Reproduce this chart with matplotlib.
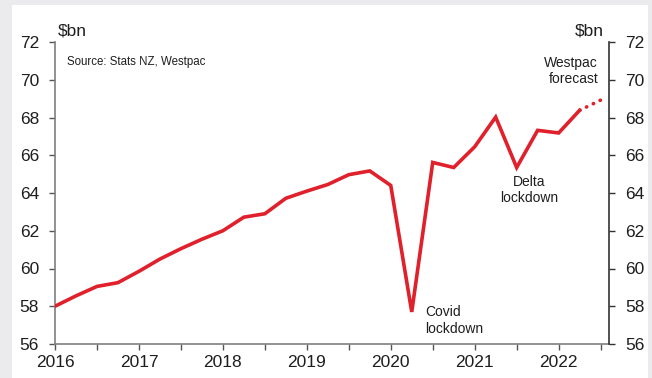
import matplotlib.pyplot as plt
from matplotlib.patches import Rectangle

plt.rcParams['font.family'] = ['Liberation Sans', 'DejaVu Sans']

# quarterly nominal values, $bn
quarters = [2016.0, 2016.25, 2016.5, 2016.75,
            2017.0, 2017.25, 2017.5, 2017.75,
            2018.0, 2018.25, 2018.5, 2018.75,
            2019.0, 2019.25, 2019.5, 2019.75,
            2020.0, 2020.25, 2020.5, 2020.75,
            2021.0, 2021.25, 2021.5, 2021.75,
            2022.0, 2022.25]
actual = [58.0, 58.55, 59.05, 59.25,
          59.85, 60.5, 61.05, 61.55,
          62.0, 62.72, 62.9, 63.72,
          64.1, 64.45, 64.97, 65.17,
          64.4, 57.7, 65.62, 65.35,
          66.45, 68.02, 65.35, 67.32,
          67.18, 68.38]
forecast_x = [2022.25, 2022.5]
forecast = [68.38, 68.92]

year_ticks = [2016, 2017, 2018, 2019, 2020, 2021, 2022]
half_ticks = [2016.5, 2017.5, 2018.5, 2019.5, 2020.5, 2021.5, 2022.5]
y_ticks = [56, 58, 60, 62, 64, 66, 68, 70, 72]

red = '#e0202b'
txt = '#1e1e1e'

fig = plt.figure(figsize=(6.52, 3.78), dpi=100)
fig.patch.set_facecolor('#ebebed')
fig.patches.append(Rectangle((12 / 652, 0), 636 / 652, 373 / 378,
                             transform=fig.transFigure, facecolor='white',
                             edgecolor='none', zorder=-10))

ax = fig.add_axes([55 / 652, 34 / 378, 554 / 652, 302 / 378])
ax.set_facecolor('none')
ax.plot(quarters, actual, color=red, lw=2.6, solid_joinstyle='miter', zorder=3)
ax.plot(forecast_x, forecast, color=red, lw=2.6, linestyle=(0, (0.1, 2.0)),
        dash_capstyle='round', zorder=3)

ax.set_xlim(2016, 2022.6)
ax.set_ylim(56, 72)
ax.set_yticks(y_ticks)
ax.set_xticks(year_ticks)
ax.set_xticks(half_ticks, minor=True)
ax.tick_params(axis='y', direction='out', length=4.5, width=1, pad=7,
               labelsize=12.5, colors='#555555', labelcolor=txt)
ax.tick_params(axis='x', which='both', direction='out', length=4, width=1,
               pad=4, labelsize=12.5, colors='#555555', labelcolor=txt)

for s in ['top', 'right']:
    ax.spines[s].set_visible(False)
ax.spines['left'].set_color('#7f7f7f')
ax.spines['bottom'].set_color('#7f7f7f')
ax.spines['left'].set_linewidth(1.2)
ax.spines['bottom'].set_linewidth(1.2)

ax2 = ax.twinx()
ax2.set_ylim(56, 72)
ax2.set_yticks(y_ticks)
ax2.tick_params(axis='y', direction='out', length=4.5, width=1, pad=7,
                labelsize=12.5, colors='#333333', labelcolor=txt)
for s in ['top', 'left', 'bottom']:
    ax2.spines[s].set_visible(False)
ax2.spines['right'].set_color('#333333')
ax2.spines['right'].set_linewidth(1.2)

# unit labels above each axis
ax.text(0.005, 1.012, '$bn', transform=ax.transAxes, fontsize=12.5,
        color=txt, ha='left', va='bottom')
ax.text(0.99, 1.012, '$bn', transform=ax.transAxes, fontsize=12.5,
        color=txt, ha='right', va='bottom')

ax.text(0.022, 0.955, 'Source: Stats NZ, Westpac', transform=ax.transAxes,
        fontsize=8.3, color=txt, ha='left', va='top')

ax.text(2020.41, 57.25, 'Covid\nlockdown', fontsize=10, color=txt,
        ha='left', va='center', linespacing=1.2)
ax.text(2021.65, 64.15, 'Delta\nlockdown', fontsize=10, color=txt,
        ha='center', va='center', linespacing=1.2)
ax.text(2022.47, 70.45, 'Westpac\nforecast', fontsize=10, color=txt,
        ha='right', va='center', linespacing=1.2)

fig.savefig('out.png', dpi=100, facecolor=fig.get_facecolor())
